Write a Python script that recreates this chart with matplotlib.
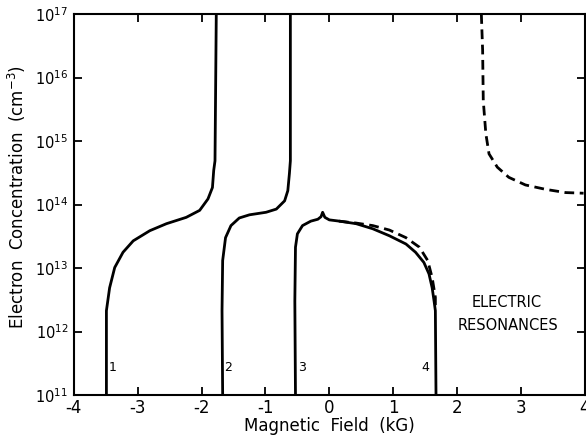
import numpy as np
import matplotlib
matplotlib.use("Agg")
import matplotlib.pyplot as plt

# curves: x in kG, y as log10(n)
c1_x = [-3.49, -3.49, -3.49, -3.44, -3.36, -3.23, -3.07, -2.81, -2.55, -2.24,
        -2.03, -1.90, -1.83, -1.81, -1.79, -1.77]
c1_e = [11.0, 12.0, 12.33, 12.69, 13.01, 13.25, 13.43, 13.59, 13.70, 13.80,
        13.91, 14.09, 14.27, 14.54, 14.69, 17.0]

c2_x = [-1.67, -1.68, -1.67, -1.625, -1.54, -1.41, -1.25, -0.99, -0.83, -0.70,
        -0.65, -0.625, -0.61, -0.61]
c2_e = [11.0, 12.33, 13.12, 13.48, 13.67, 13.79, 13.84, 13.88, 13.93, 14.06,
        14.22, 14.49, 14.69, 17.0]

c34_x = [-0.53, -0.54, -0.53, -0.50, -0.42, -0.29, -0.18, -0.13, -0.105, -0.07,
         0.0, 0.16, 0.42, 0.68, 0.94, 1.20, 1.35, 1.48, 1.56, 1.61, 1.64, 1.66, 1.67]
c34_e = [11.0, 12.48, 13.33, 13.54, 13.67, 13.74, 13.77, 13.81, 13.88, 13.80,
         13.76, 13.74, 13.70, 13.62, 13.51, 13.38, 13.25, 13.09, 12.91, 12.69,
         12.48, 12.33, 11.0]

d1_x = [0.15, 0.42, 0.68, 0.94, 1.20, 1.41, 1.54, 1.61, 1.66, 1.66]
d1_e = [13.74, 13.71, 13.67, 13.60, 13.48, 13.33, 13.12, 12.85, 12.54, 12.38]

d2_x = [2.38, 2.40, 2.41, 2.45, 2.50, 2.63, 2.81, 3.07, 3.39, 3.70, 3.98]
d2_e = [17.0, 16.43, 15.64, 15.12, 14.80, 14.59, 14.43, 14.31, 14.24, 14.19, 14.18]

labels = ["1", "2", "3", "4"]
label_x = [-3.40, -1.59, -0.43, 1.50]
label_e = 11.44

plt.rcParams['font.family'] = ['DejaVu Sans']
fig = plt.figure(figsize=(5.86, 4.42), dpi=100)
ax = fig.add_axes([0.126, 0.106, 0.872, 0.862])

solid = dict(color='black', lw=2.0, solid_capstyle='butt')
for xs, es in [(c1_x, c1_e), (c2_x, c2_e), (c34_x, c34_e)]:
    ax.plot(xs, 10.0 ** np.array(es), **solid)
for xs, es in [(d1_x, d1_e), (d2_x, d2_e)]:
    ax.plot(xs, 10.0 ** np.array(es), color='black', lw=2.0, dashes=(3.5, 2.0))

for lab, lx in zip(labels, label_x):
    ax.text(lx, 10 ** label_e, lab, fontsize=9, va='center', ha='center')

ax.text(2.77, 10 ** 12.46, "ELECTRIC", fontsize=10.5, ha='center', va='center')
ax.text(2.80, 10 ** 12.10, "RESONANCES", fontsize=10.5, ha='center', va='center')

ax.set_yscale('log')
ax.set_xlim(-4, 4)
ax.set_ylim(1e11, 1e17)
ax.set_xticks(np.arange(-4, 5, 1))
ax.set_xticklabels(['-4', '-3', '-2', '-1', '0', '1', '2', '3', '4'])
ax.set_yticks([10.0 ** k for k in range(11, 18)])
ax.minorticks_off()
ax.tick_params(direction='in', top=True, right=True, length=6, width=1.3)
ax.tick_params(axis='x', pad=3, labelsize=12)
ax.tick_params(axis='y', pad=4, labelsize=10.5)
for s in ax.spines.values():
    s.set_linewidth(1.5)

ax.set_xlabel("Magnetic  Field  (kG)", fontsize=12, labelpad=0)
ax.set_ylabel("Electron  Concentration  (cm$^{-3}$)", fontsize=12)
ax.yaxis.set_label_coords(-0.09, 0.52)

fig.savefig("out.png", dpi=100)
